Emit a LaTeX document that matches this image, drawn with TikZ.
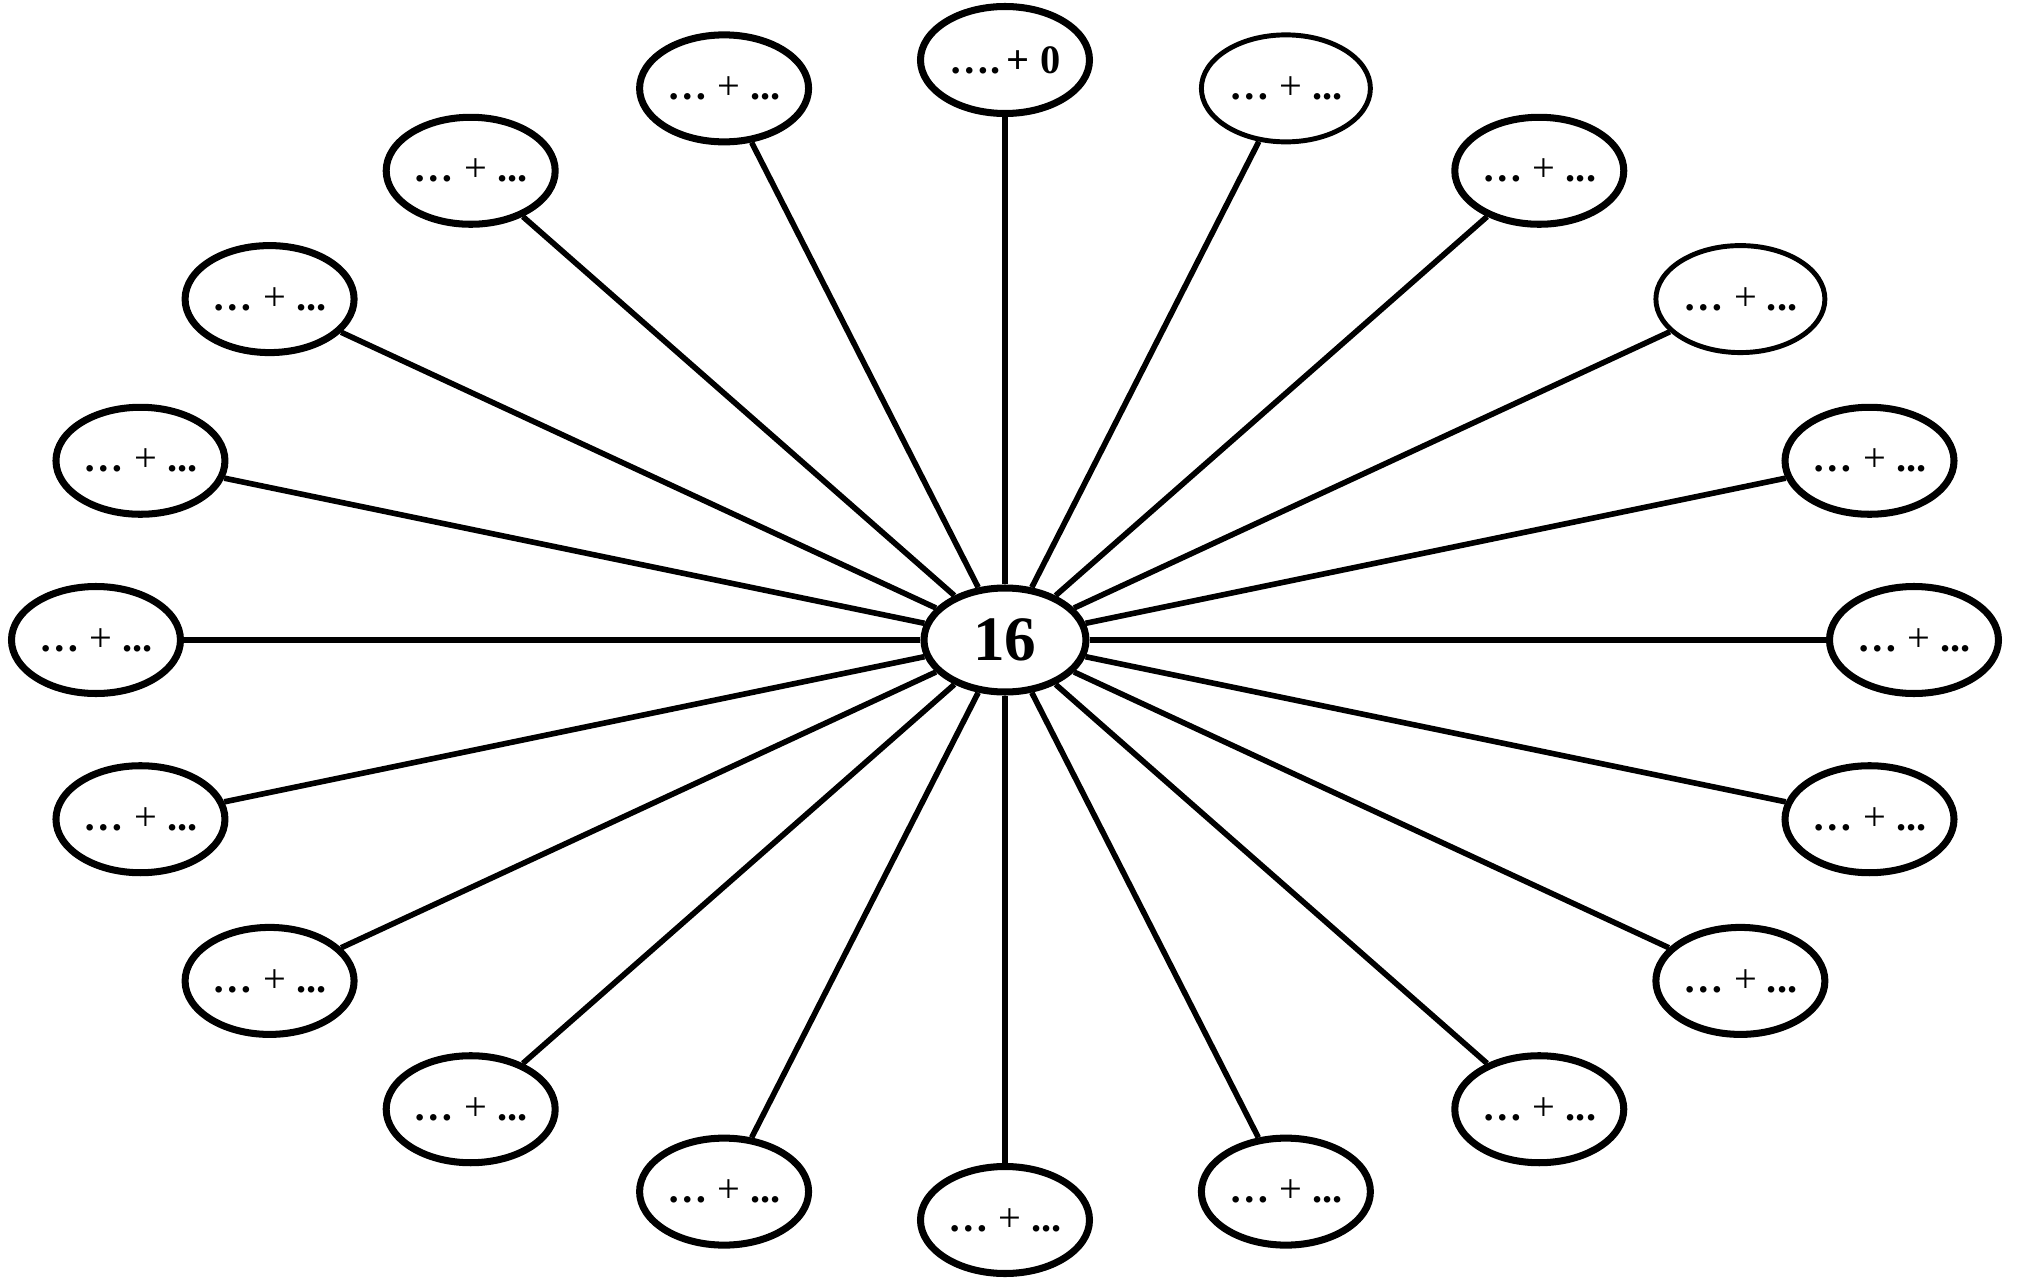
\documentclass[tikz,border=0pt]{standalone}
\usepackage{fontspec}
\setmainfont{Liberation Serif}
\usetikzlibrary{shapes.geometric}

\begin{document}
\begin{tikzpicture}[e/.style={ellipse, draw, line width=2pt, minimum width=1.69cm, minimum height=1.07cm, inner sep=0pt, font=\fontsize{11.5}{13}\selectfont}, t/.style={line width=1.4pt}, s/.style={line width=1.6pt}]
		\useasboundingbox (-10.05,-6.38) rectangle (10.12,6.40);
		\node[e, minimum width=1.62cm, minimum height=1.04cm, font=\fontsize{18}{20}\selectfont\bfseries] (S) {16};
		\node[e] (P1) at (90:9.09cm and 5.8cm) {\textbf{….\,+ 0}};
		\node[e, t] (P2) at (72:9.09cm and 5.8cm) {\textbf{…} + \textbf{...}};
		\node[e] (P3) at (54:9.09cm and 5.8cm) {\textbf{…} + \textbf{...}};
		\node[e, t] (P4) at (36:9.09cm and 5.8cm) {\textbf{…} + \textbf{...}};
		\node[e] (P5) at (18:9.09cm and 5.8cm) {\textbf{…} + \textbf{...}};
		\node[e] (P6) at (0:9.09cm and 5.8cm) {\textbf{…} + \textbf{...}};
		\node[e] (P7) at (-18:9.09cm and 5.8cm) {\textbf{…} + \textbf{...}};
		\node[e] (P8) at (-36:9.09cm and 5.8cm) {\textbf{…} + \textbf{...}};
		\node[e] (P9) at (-54:9.09cm and 5.8cm) {\textbf{…} + \textbf{...}};
		\node[e] (P10) at (-72:9.09cm and 5.8cm) {\textbf{…} + \textbf{...}};
		\node[e] (P11) at (-90:9.09cm and 5.8cm) {\textbf{…} + \textbf{...}};
		\node[e] (P12) at (-108:9.09cm and 5.8cm) {\textbf{…} + \textbf{...}};
		\node[e] (P13) at (-126:9.09cm and 5.8cm) {\textbf{…} + \textbf{...}};
		\node[e] (P14) at (-144:9.09cm and 5.8cm) {\textbf{…} + \textbf{...}};
		\node[e] (P15) at (-162:9.09cm and 5.8cm) {\textbf{…} + \textbf{...}};
		\node[e] (P16) at (180:9.09cm and 5.8cm) {\textbf{…} + \textbf{...}};
		\node[e] (P17) at (162:9.09cm and 5.8cm) {\textbf{…} + \textbf{...}};
		\node[e] (P18) at (144:9.09cm and 5.8cm) {\textbf{…} + \textbf{...}};
		\node[e] (P19) at (126:9.09cm and 5.8cm) {\textbf{…} + \textbf{...}};
		\node[e] (P20) at (108:9.09cm and 5.8cm) {\textbf{…} + \textbf{...}};

		\path[s] (S) edge (P1);
		\path[s] (S) edge (P2);
		\path[s] (S) edge (P3);
		\path[s] (S) edge (P4);
		\path[s] (S) edge (P5);
		\path[s] (S) edge (P6);
		\path[s] (S) edge (P7);
		\path[s] (S) edge (P8);
		\path[s] (S) edge (P9);
		\path[s] (S) edge (P10);
		\path[s] (S) edge (P11);
		\path[s] (S) edge (P12);
		\path[s] (S) edge (P13);
		\path[s] (S) edge (P14);
		\path[s] (S) edge (P15);
		\path[s] (S) edge (P16);
		\path[s] (S) edge (P17);
		\path[s] (S) edge (P18);
		\path[s] (S) edge (P19);
		\path[s] (S) edge (P20);
	\end{tikzpicture}
\end{document}
